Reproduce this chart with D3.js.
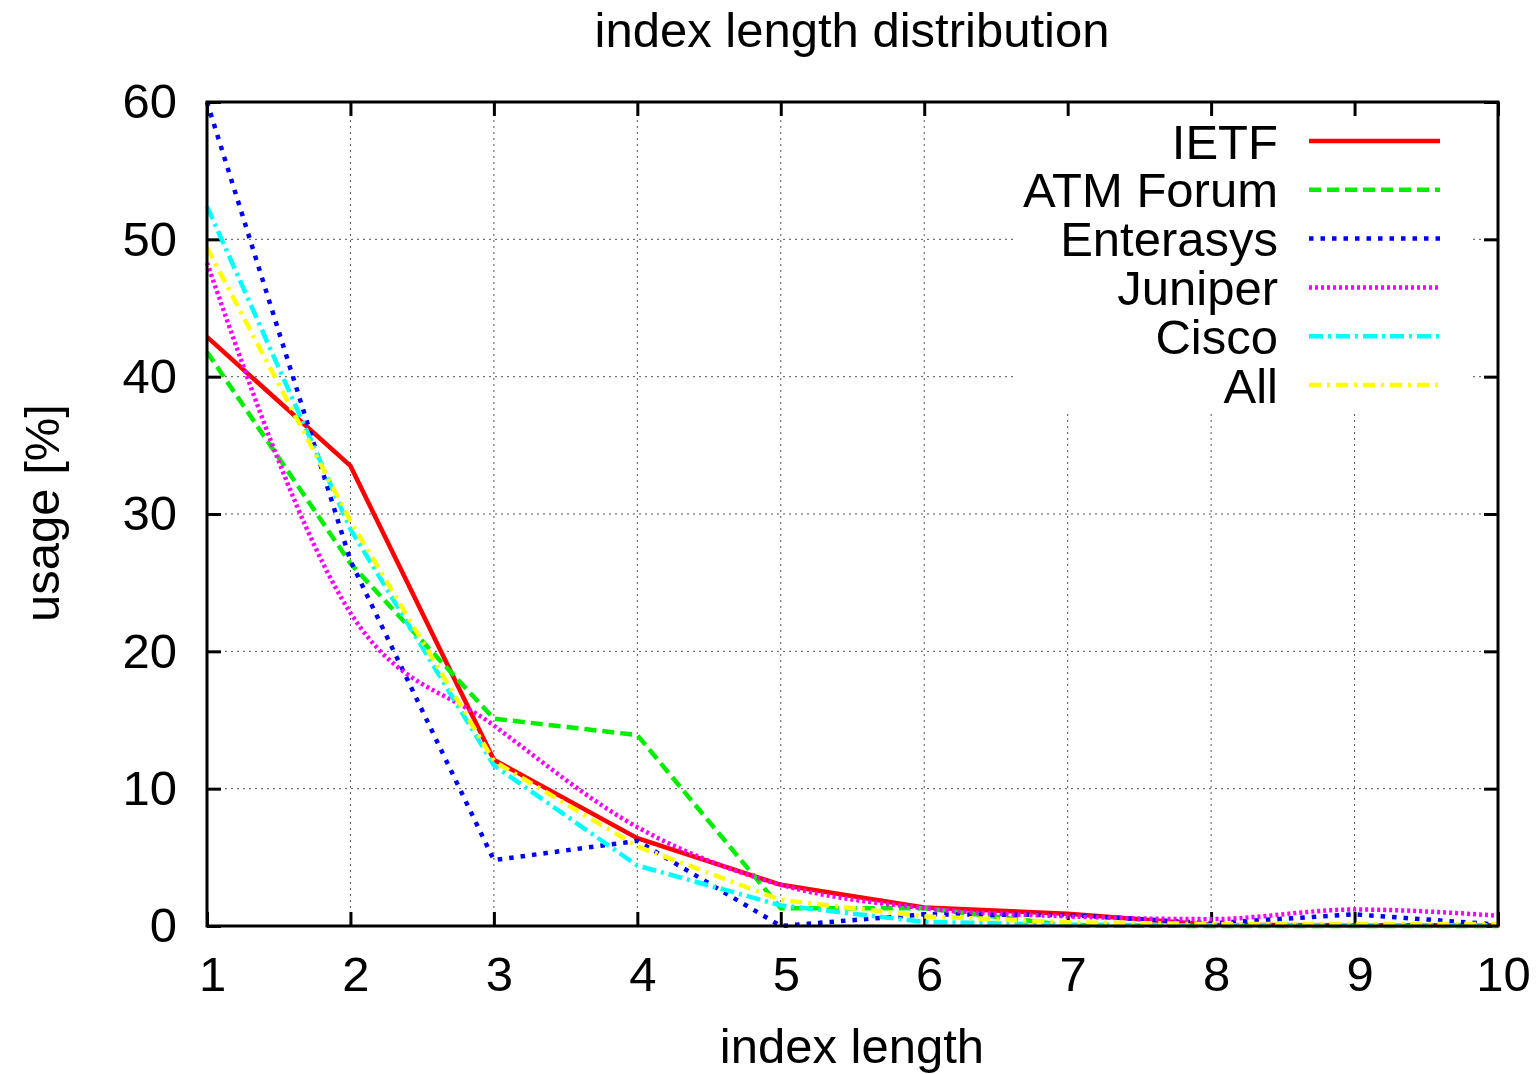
<!DOCTYPE html>
<html>
<head>
<meta charset="utf-8">
<script src="https://cdn.jsdelivr.net/npm/d3@7"></script>
<style>
  body { margin: 0; background: #fff; }
  text { font-family: "Liberation Sans", Arial, sans-serif; fill: #000; }
</style>
</head>
<body>
<div class="chart"></div>
<script>
// DATA ------------------------------------
const lengths = [1, 2, 3, 4, 5, 6, 7, 8, 9, 10];
const ietf      = [42.9, 33.5, 12.1, 6.4, 3.0, 1.35, 0.9, 0.1, 0.05, 0.05];
const atmForum  = [41.8, 26.4, 15.1, 13.9, 1.3, 1.3, 0.05, 0.0, 0.0, 0.0];
const enterasys = [60.0, 26.6, 4.8, 6.2, 0.0, 0.85, 0.8, 0.2, 0.85, 0.1];
const juniper   = [48.3, 22.8, 14.6, 7.2, 3.0, 1.3, 0.7, 0.5, 1.2, 0.75];
const cisco     = [52.4, 28.9, 11.7, 4.4, 1.5, 0.3, 0.1, 0.05, 0.05, 0.05];
const all       = [49.4, 29.5, 12.0, 5.8, 1.9, 0.7, 0.27, 0.15, 0.15, 0.15];
const seriesNames = ["IETF", "ATM Forum", "Enterasys", "Juniper", "Cisco", "All"];
const yTicks = [0, 10, 20, 30, 40, 50, 60];

const seriesValues = [ietf, atmForum, enterasys, juniper, cisco, all];
const styles = [
  {color: "#ff0000", dash: null,          curve: d3.curveLinear},
  {color: "#00ee00", dash: "12,6",        curve: d3.curveLinear},
  {color: "#0000ff", dash: "4.5,7",       curve: d3.curveLinear},
  {color: "#ff00ff", dash: "3,3",         curve: d3.curveMonotoneX},
  {color: "#00ffff", dash: "14,5,3,5",    curve: d3.curveLinear},
  {color: "#ffff00", dash: "12,6,3,6",    curve: d3.curveLinear}
];

const fontSize = "49px";

// CHART INIT ------------------------------
const W = 1537, H = 1074;
const margin = ({top: 102, right: 39, bottom: 148, left: 207});
const w = W - margin.left - margin.right,
      h = H - margin.top - margin.bottom;

const root = d3.select(".chart").append("svg")
  .attr("width", W).attr("height", H);
const svg = root.append("g")
  .attr("transform", `translate(${margin.left},${margin.top})`);

const xScale = d3.scaleLinear().domain([1, 10]).range([0, w]);
const yScale = d3.scaleLinear().domain([0, 60]).range([h, 0]);

// grid
svg.append("g").selectAll("line").data(lengths.slice(1, -1)).join("line")
  .attr("x1", d => xScale(d)).attr("x2", d => xScale(d))
  .attr("y1", 0).attr("y2", h)
  .attr("stroke", "#555").attr("stroke-width", 1).attr("stroke-dasharray", "2,4");
svg.append("g").selectAll("line").data(yTicks.slice(1, -1)).join("line")
  .attr("y1", d => yScale(d)).attr("y2", d => yScale(d))
  .attr("x1", 0).attr("x2", w)
  .attr("stroke", "#555").attr("stroke-width", 1).attr("stroke-dasharray", "2,4");

// legend background (hides grid behind key)
svg.append("rect")
  .attr("x", 1015 - margin.left).attr("y", 116 - margin.top)
  .attr("width", 1470 - 1015).attr("height", 410 - 116)
  .attr("fill", "#fff");

// axes: inward ticks on all four sides
const tickLen = 14;
const xAxis = d3.axisBottom(xScale).tickValues(lengths).tickSize(-tickLen).tickPadding(tickLen + 16).tickFormat(d3.format("d"));
const yAxis = d3.axisLeft(yScale).tickValues(yTicks).tickSize(-tickLen).tickPadding(tickLen + 16);
const xAxisTop = d3.axisTop(xScale).tickValues(lengths).tickSize(-tickLen).tickFormat("");
const yAxisRight = d3.axisRight(yScale).tickValues(yTicks).tickSize(-tickLen).tickFormat("");

const gx = svg.append("g").attr("class", "axis").attr("transform", `translate(0,${h})`).call(xAxis);
svg.append("g").attr("class", "axis").call(yAxis);
svg.append("g").attr("class", "axis").call(xAxisTop);
svg.append("g").attr("class", "axis").attr("transform", `translate(${w},0)`).call(yAxisRight);

svg.selectAll(".axis .domain").remove();
svg.selectAll(".axis line").attr("stroke", "#000").attr("stroke-width", 3);
svg.selectAll(".axis text")
  .style("font-family", "Liberation Sans, Arial, sans-serif")
  .style("font-size", fontSize).attr("fill", "#000");
gx.selectAll("text").attr("dx", 5);

// series lines
const line = (curve) => d3.line()
  .x((d, i) => xScale(lengths[i]))
  .y(d => yScale(d))
  .curve(curve);

seriesValues.forEach((vals, i) => {
  svg.append("path")
    .datum(vals)
    .attr("fill", "none")
    .attr("stroke", styles[i].color)
    .attr("stroke-width", 4.5)
    .attr("stroke-dasharray", styles[i].dash)
    .attr("d", line(styles[i].curve));
});

// frame
svg.append("rect")
  .attr("x", 0).attr("y", 0).attr("width", w).attr("height", h)
  .attr("fill", "none").attr("stroke", "#000").attr("stroke-width", 3);

// legend
const legend = svg.append("g").attr("transform", `translate(${1278 - margin.left},${141 - margin.top})`);
seriesNames.forEach((name, i) => {
  const g = legend.append("g").attr("transform", `translate(0,${i * 48.8})`);
  g.append("text")
    .attr("text-anchor", "end")
    .attr("dy", "0.36em")
    .style("font-size", fontSize)
    .text(name);
  g.append("line")
    .attr("x1", 31).attr("x2", 162)
    .attr("stroke", styles[i].color)
    .attr("stroke-width", 4.5)
    .attr("stroke-dasharray", styles[i].dash);
});

// titles
root.append("text")
  .attr("x", 852).attr("y", 29).attr("dy", "0.36em")
  .attr("text-anchor", "middle").style("font-size", fontSize)
  .text("index length distribution");
root.append("text")
  .attr("x", 852).attr("y", 1045).attr("dy", "0.36em")
  .attr("text-anchor", "middle").style("font-size", fontSize)
  .text("index length");
root.append("text")
  .attr("transform", "translate(41,513) rotate(-90)")
  .attr("dy", "0.36em")
  .attr("text-anchor", "middle").style("font-size", fontSize)
  .text("usage [%]");
</script>
</body>
</html>
